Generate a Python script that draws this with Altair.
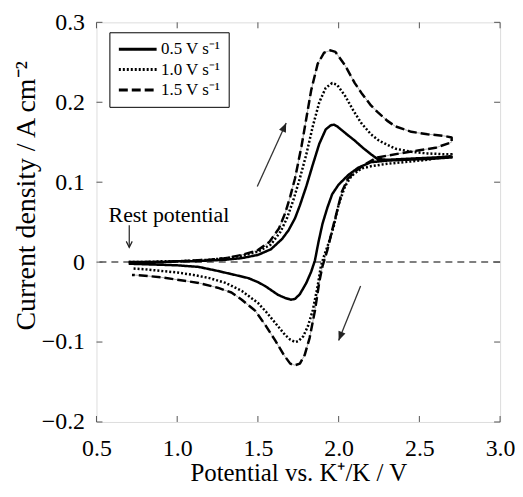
import altair as alt
import pandas as pd

FONT = "Liberation Serif"

scan_rates = ["0.5 V s⁻¹", "1.0 V s⁻¹", "1.5 V s⁻¹"]

# 0.5 V/s  (solid)
e05_fwd = [0.70, 0.80, 0.90, 1.00, 1.10, 1.20, 1.30, 1.40, 1.50, 1.58, 1.65, 1.69, 1.73, 1.76, 1.80,
           1.84, 1.88, 1.92, 1.95, 1.97, 1.99, 2.05, 2.10, 2.15, 2.20, 2.24, 2.30, 2.40, 2.50, 2.60, 2.70]
j05_fwd = [0.000, 0.000, 0.000, 0.001, 0.001, 0.002, 0.003, 0.005, 0.009, 0.016, 0.029, 0.040, 0.055, 0.071, 0.095,
           0.122, 0.148, 0.166, 0.171, 0.172, 0.170, 0.160, 0.152, 0.143, 0.135, 0.129, 0.128, 0.129, 0.130, 0.131, 0.132]
e05_rev = [2.70, 2.55, 2.40, 2.30, 2.20, 2.12, 2.06, 2.00, 1.96, 1.93, 1.90, 1.875, 1.853, 1.83, 1.80, 1.76,
           1.73, 1.705, 1.67, 1.625, 1.545, 1.50, 1.44, 1.336, 1.25, 1.133, 1.00, 0.85, 0.70]
j05_rev = [0.131, 0.129, 0.128, 0.127, 0.125, 0.118, 0.109, 0.097, 0.085, 0.068, 0.048, 0.025, 0.002, -0.012, -0.026, -0.040,
           -0.046, -0.047, -0.045, -0.041, -0.030, -0.025, -0.020, -0.015, -0.011, -0.006, -0.004, -0.003, -0.002]

# 1.0 V/s  (dotted)
e10_fwd = [0.70, 0.80, 0.90, 1.00, 1.10, 1.20, 1.30, 1.40, 1.50, 1.58, 1.64, 1.68, 1.72, 1.76, 1.80, 1.84,
           1.88, 1.92, 1.96, 1.99, 2.04, 2.09, 2.14, 2.20, 2.25, 2.35, 2.45, 2.55, 2.65, 2.70]
j10_fwd = [0.000, 0.000, 0.001, 0.001, 0.002, 0.003, 0.005, 0.008, 0.013, 0.022, 0.038, 0.055, 0.078, 0.105, 0.135, 0.170,
           0.200, 0.218, 0.224, 0.222, 0.208, 0.190, 0.174, 0.160, 0.152, 0.142, 0.138, 0.136, 0.135, 0.135]
e10_rev = [2.70, 2.55, 2.40, 2.30, 2.20, 2.14, 2.08, 2.04, 2.00, 1.97, 1.94, 1.91, 1.89, 1.87, 1.84, 1.81, 1.78,
           1.75, 1.73, 1.70, 1.668, 1.607, 1.55, 1.50, 1.40, 1.30, 1.20, 1.10, 1.00, 0.90, 0.80, 0.72]
j10_rev = [0.133, 0.128, 0.125, 0.123, 0.120, 0.117, 0.108, 0.095, 0.072, 0.045, 0.025, 0.008, -0.005, -0.030, -0.060, -0.080, -0.093,
           -0.099, -0.100, -0.097, -0.091, -0.076, -0.062, -0.051, -0.036, -0.026, -0.020, -0.016, -0.013, -0.011, -0.009, -0.008]

# 1.5 V/s  (dashed)
e15_fwd = [0.70, 0.80, 0.90, 1.00, 1.10, 1.20, 1.30, 1.40, 1.50, 1.57, 1.63, 1.67, 1.70, 1.73, 1.77, 1.80,
           1.83, 1.87, 1.91, 1.95, 1.98, 2.04, 2.10, 2.14, 2.20, 2.24, 2.30, 2.35, 2.45, 2.55, 2.65, 2.70]
j15_fwd = [-0.001, 0.000, 0.000, 0.001, 0.002, 0.003, 0.005, 0.009, 0.015, 0.025, 0.042, 0.062, 0.082, 0.105, 0.145, 0.180,
           0.215, 0.248, 0.262, 0.265, 0.263, 0.246, 0.224, 0.212, 0.196, 0.188, 0.177, 0.170, 0.163, 0.160, 0.158, 0.156]
e15_rev = [2.70, 2.60, 2.50, 2.38, 2.24, 2.16, 2.10, 2.056, 2.02, 1.994, 1.96, 1.93, 1.90, 1.88, 1.853, 1.82,
           1.79, 1.76, 1.73, 1.70, 1.66, 1.607, 1.55, 1.484, 1.40, 1.336, 1.25, 1.133, 1.00, 0.90, 0.80, 0.72]
j15_rev = [0.150, 0.143, 0.140, 0.136, 0.131, 0.122, 0.113, 0.104, 0.088, 0.067, 0.040, 0.015, -0.005, -0.025, -0.061, -0.095,
           -0.116, -0.127, -0.129, -0.127, -0.116, -0.098, -0.080, -0.061, -0.047, -0.038, -0.032, -0.026, -0.022, -0.019, -0.017, -0.016]

x_ticks = [0.5, 1.0, 1.5, 2.0, 2.5, 3.0]
y_ticks = [-0.2, -0.1, 0.0, 0.1, 0.2, 0.3]

# annotation arrows (scan direction)
arrow_x = [1.496, 2.136]
arrow_y = [0.0945, -0.030]
arrow_x2 = [1.675, 2.000]
arrow_y2 = [0.174, -0.098]
arrow_angle = [24.4, 201.8]

rest_label = "Rest potential"
rest_label_x = 0.949
rest_label_y = 0.0498
rest_arrow_x = 0.703
rest_arrow_y = 0.046
rest_arrow_y2 = 0.0185

W, H = 406, 402

rows = []
for rate, ef, jf, er, jr in [
    (scan_rates[0], e05_fwd, j05_fwd, e05_rev, j05_rev),
    (scan_rates[1], e10_fwd, j10_fwd, e10_rev, j10_rev),
    (scan_rates[2], e15_fwd, j15_fwd, e15_rev, j15_rev),
]:
    E = ef + er
    J = jf + jr
    for i, (e, j) in enumerate(zip(E, J)):
        rows.append({"E": e, "J": j, "rate": rate, "i": i})
cv = pd.DataFrame(rows)

xs = alt.Scale(domain=[0.5, 3.0], nice=False, zero=False)
ys = alt.Scale(domain=[-0.2, 0.3], nice=False, zero=False)

x_axis = alt.Axis(
    values=x_ticks, format=".1f", grid=False, domain=False, ticks=False, tickSize=0,
    labelFont=FONT, labelFontSize=24, labelColor="black", labelPadding=34,
    labelBaseline="alphabetic", labelFlush=False, labelOverlap=False,
    title="Potential vs. K⁺/K / V", titleFont=FONT, titleFontSize=25,
    titleFontWeight="normal", titleColor="black", titleX=W / 2, titleY=59,
    titleBaseline="alphabetic",
)
y_axis = alt.Axis(
    values=y_ticks, grid=False, domain=False, ticks=False, tickSize=0,
    labelExpr="datum.value == 0 ? '0' : format(datum.value, '.1f')",
    labelFont=FONT, labelFontSize=24, labelColor="black", labelPadding=12,
    labelFlush=False, labelOverlap=False,
    title="Current density / A cm⁻²", titleFont=FONT, titleFontSize=28,
    titleFontWeight="normal", titleColor="black", titleX=-62, titleY=174,
    titleAngle=270, titleBaseline="alphabetic",
)


def X(field):
    return alt.X(field, scale=xs, axis=x_axis)


def Y(field):
    return alt.Y(field, scale=ys, axis=y_axis)


zero_line = alt.Chart(pd.DataFrame({"y": [0.0]})).mark_rule(
    color="#555", strokeWidth=1.5, strokeDash=[7, 5]
).encode(y=Y("y:Q"))

under = alt.Chart(cv[cv["rate"] == scan_rates[2]]).mark_line(
    color="#999", strokeWidth=0.8
).encode(x=X("E:Q"), y=Y("J:Q"), order=alt.Order("i:Q"))

curves = alt.Chart(cv).mark_line(color="black", strokeWidth=2.5, strokeJoin="round").encode(
    x=X("E:Q"),
    y=Y("J:Q"),
    strokeDash=alt.StrokeDash(
        "rate:N",
        scale=alt.Scale(domain=scan_rates, range=[[1, 0], [2, 2], [9, 4]]),
        legend=alt.Legend(
            title=None, orient="none", legendX=13, legendY=10,
            symbolType="stroke", symbolSize=1444, symbolStrokeWidth=3,
            symbolStrokeColor="black", labelFont=FONT, labelFontSize=17,
            labelColor="black", labelOffset=3, rowPadding=2.5, clipHeight=18,
            padding=8, strokeColor="black", fillColor="white",
        ),
    ),
    order=alt.Order("i:Q"),
)

xt = pd.DataFrame({"v": x_ticks})
yt = pd.DataFrame({"v": y_ticks})
tick_style = dict(color="#555", strokeWidth=1)
tb = alt.Chart(xt).mark_rule(**tick_style).encode(x=X("v:Q"), y=alt.value(H), y2=alt.value(H - 6))
tt = alt.Chart(xt).mark_rule(**tick_style).encode(x=X("v:Q"), y=alt.value(0), y2=alt.value(6))
tl = alt.Chart(yt).mark_rule(**tick_style).encode(y=Y("v:Q"), x=alt.value(0), x2=alt.value(6))
tr = alt.Chart(yt).mark_rule(**tick_style).encode(y=Y("v:Q"), x=alt.value(W), x2=alt.value(W - 6))

arr = pd.DataFrame({"x": arrow_x, "y": arrow_y, "x2": arrow_x2, "y2": arrow_y2, "a": arrow_angle})
arrow_lines = alt.Chart(arr).mark_rule(color="#333", strokeWidth=1.3).encode(
    x=X("x:Q"), y=Y("y:Q"), x2="x2:Q", y2="y2:Q")
arrow_heads = alt.Chart(arr).mark_point(
    shape="M0,0 L-0.42,1 L0.42,1 Z", filled=True, color="#222", size=324, opacity=1
).encode(x=X("x2:Q"), y=Y("y2:Q"), angle=alt.Angle("a:Q", scale=None))

rest = pd.DataFrame({"x": [rest_arrow_x], "y": [rest_arrow_y], "y2": [rest_arrow_y2],
                     "lx": [rest_label_x], "ly": [rest_label_y], "t": [rest_label]})
rest_line = alt.Chart(rest).mark_rule(color="#222", strokeWidth=1.2).encode(
    x=X("x:Q"), y=Y("y:Q"), y2="y2:Q")
rest_head = alt.Chart(rest).mark_point(
    shape="M-0.5,-1 L0,0 L0.5,-1", filled=False, color="#222", size=144, strokeWidth=1.2, opacity=1
).encode(x=X("x:Q"), y=Y("y2:Q"))
rest_text = alt.Chart(rest).mark_text(
    font=FONT, fontSize=22, color="black", align="center", baseline="alphabetic"
).encode(x=X("lx:Q"), y=Y("ly:Q"), text="t:N")

chart = alt.layer(
    zero_line, under, curves, tb, tt, tl, tr,
    arrow_lines, arrow_heads, rest_line, rest_head, rest_text,
).properties(
    width=W, height=H,
    autosize=alt.AutoSizeParams(type="none"),
    padding={"left": 89, "top": 13, "right": 15, "bottom": 65},
).configure_view(
    stroke="#555", strokeWidth=1.2
).configure(background="white")

chart.save("out.html", embed_options={"renderer": "svg", "actions": False})
